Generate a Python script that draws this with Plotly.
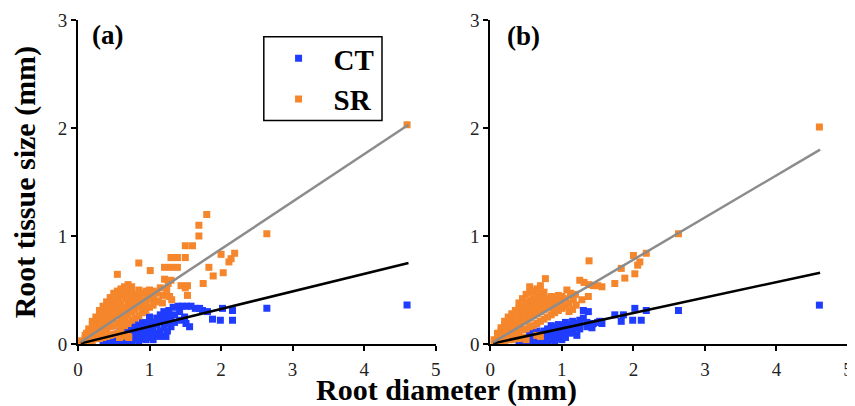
import plotly.graph_objects as go
from plotly.subplots import make_subplots

# ---------------- data ----------------
# panel (a): CT points [diameter, tissue size]
ct_a = [
    [4.60, 0.36], [2.64, 0.33], [2.02, 0.33], [2.16, 0.31], [1.81, 0.30], [1.88, 0.23],
    [1.99, 0.22], [2.16, 0.22], [1.46, 0.35], [1.52, 0.35], [1.58, 0.35], [1.64, 0.33],
    [1.70, 0.33], [1.74, 0.31], [1.49, 0.25], [1.51, 0.19], [1.56, 0.16], [1.40, 0.35],
    [1.33, 0.34], [1.27, 0.31], [1.30, 0.26], [1.22, 0.28], [1.30, 0.16], [1.23, 0.07],
    [1.14, 0.07], [0.95, 0.10], [1.00, 0.25],
    [0.35, 0.01], [0.40, 0.01], [0.40, 0.03], [0.45, 0.02], [0.45, 0.05],
    [0.50, 0.01], [0.50, 0.04], [0.50, 0.08], [0.55, 0.02], [0.55, 0.06], [0.55, 0.10],
    [0.60, 0.03], [0.60, 0.08], [0.60, 0.12], [0.65, 0.02], [0.65, 0.05], [0.65, 0.10],
    [0.65, 0.14], [0.70, 0.03], [0.70, 0.08], [0.70, 0.12], [0.75, 0.02], [0.75, 0.06],
    [0.75, 0.10], [0.75, 0.15], [0.80, 0.04], [0.80, 0.09], [0.80, 0.14], [0.80, 0.18],
    [0.85, 0.03], [0.85, 0.07], [0.85, 0.12], [0.85, 0.17], [0.90, 0.05], [0.90, 0.10],
    [0.90, 0.15], [0.90, 0.20], [0.95, 0.04], [0.95, 0.14], [0.95, 0.19], [1.00, 0.06],
    [1.00, 0.12], [1.00, 0.17], [1.00, 0.22], [1.05, 0.04], [1.05, 0.09], [1.05, 0.15],
    [1.05, 0.20], [1.10, 0.10], [1.10, 0.18], [1.10, 0.24], [1.15, 0.12], [1.15, 0.21],
    [1.15, 0.27], [1.20, 0.15], [1.20, 0.22], [1.20, 0.30], [1.25, 0.12], [1.25, 0.19],
    [1.25, 0.25], [1.35, 0.20], [1.35, 0.27], [1.42, 0.22], [1.42, 0.30],
]
# panel (a): SR points
sr_a = [
    [4.60, 2.03], [1.80, 1.20], [1.69, 1.10], [1.69, 1.00], [1.50, 0.91], [1.60, 0.91],
    [2.64, 1.02], [2.00, 0.83], [2.19, 0.84], [2.14, 0.79], [2.11, 0.76], [1.30, 0.80],
    [1.39, 0.80], [1.50, 0.80], [0.85, 0.75], [1.21, 0.71], [1.30, 0.71], [1.39, 0.71],
    [1.01, 0.68], [0.55, 0.645], [1.83, 0.71], [1.89, 0.63], [2.03, 0.66], [1.21, 0.60],
    [1.30, 0.59], [1.75, 0.56], [1.44, 0.54], [1.53, 0.54], [1.50, 0.52], [1.53, 0.45],
    [1.10, 0.48], [1.15, 0.52], [1.19, 0.45], [1.24, 0.50], [1.28, 0.44], [1.05, 0.42],
    [1.12, 0.40], [1.18, 0.38], [1.26, 0.56], [1.31, 0.41],
    [0.05, 0.01], [0.05, 0.03], [0.10, 0.02], [0.10, 0.05], [0.10, 0.08],
    [0.15, 0.03], [0.15, 0.07], [0.15, 0.11], [0.15, 0.14],
    [0.20, 0.03], [0.20, 0.08], [0.20, 0.13], [0.20, 0.18], [0.20, 0.21],
    [0.25, 0.05], [0.25, 0.10], [0.25, 0.15], [0.25, 0.20], [0.25, 0.25],
    [0.30, 0.05], [0.30, 0.11], [0.30, 0.17], [0.30, 0.23], [0.30, 0.28], [0.30, 0.31],
    [0.35, 0.06], [0.35, 0.12], [0.35, 0.19], [0.35, 0.25], [0.35, 0.31], [0.35, 0.35],
    [0.40, 0.07], [0.40, 0.14], [0.40, 0.21], [0.40, 0.28], [0.40, 0.34], [0.40, 0.39],
    [0.45, 0.08], [0.45, 0.16], [0.45, 0.23], [0.45, 0.30], [0.45, 0.37], [0.45, 0.43],
    [0.50, 0.09], [0.50, 0.17], [0.50, 0.25], [0.50, 0.33], [0.50, 0.40], [0.50, 0.47],
    [0.55, 0.10], [0.55, 0.19], [0.55, 0.27], [0.55, 0.35], [0.55, 0.43], [0.55, 0.49],
    [0.60, 0.07], [0.60, 0.14], [0.60, 0.22], [0.60, 0.30], [0.60, 0.38], [0.60, 0.45],
    [0.60, 0.51], [0.65, 0.08], [0.65, 0.17], [0.65, 0.24], [0.65, 0.33], [0.65, 0.47],
    [0.65, 0.53], [0.70, 0.07], [0.70, 0.19], [0.70, 0.27], [0.70, 0.36], [0.70, 0.50],
    [0.70, 0.55], [0.75, 0.22], [0.75, 0.30], [0.75, 0.39], [0.75, 0.48], [0.75, 0.53],
    [0.80, 0.24], [0.80, 0.32], [0.80, 0.42], [0.80, 0.46], [0.85, 0.26], [0.85, 0.35],
    [0.85, 0.44], [0.85, 0.50], [0.90, 0.29], [0.90, 0.38], [0.90, 0.47], [0.95, 0.31],
    [0.95, 0.40], [0.95, 0.49], [1.00, 0.34], [1.00, 0.42], [1.00, 0.50], [1.05, 0.36],
    [1.05, 0.44], [1.05, 0.49], [1.10, 0.39], [1.10, 0.47],
    [0.12, 0.10], [0.22, 0.16], [0.27, 0.22], [0.32, 0.20], [0.37, 0.28], [0.42, 0.25],
    [0.47, 0.34], [0.52, 0.29], [0.57, 0.40], [0.62, 0.34], [0.67, 0.42], [0.72, 0.44],
    [0.77, 0.35], [0.82, 0.37], [0.87, 0.41], [0.92, 0.33], [0.97, 0.45], [0.62, 0.18],
    [0.58, 0.06], [0.71, 0.06],
]
# panel (b): CT points
ct_b = [
    [4.60, 0.36], [2.63, 0.31], [2.02, 0.33], [2.18, 0.31], [2.11, 0.22], [1.99, 0.22],
    [1.86, 0.27], [1.74, 0.27], [1.83, 0.21], [1.37, 0.30], [1.30, 0.31], [1.30, 0.24],
    [1.44, 0.19], [1.56, 0.19], [1.50, 0.20], [1.53, 0.21], [1.21, 0.08], [1.12, 0.10],
    [0.40, 0.01], [0.45, 0.01], [0.45, 0.04], [0.50, 0.02], [0.50, 0.06], [0.55, 0.01],
    [0.55, 0.04], [0.55, 0.09], [0.60, 0.02], [0.60, 0.06], [0.60, 0.11], [0.65, 0.03],
    [0.65, 0.08], [0.65, 0.12], [0.70, 0.02], [0.70, 0.05], [0.70, 0.10], [0.75, 0.03],
    [0.75, 0.07], [0.75, 0.12], [0.80, 0.02], [0.80, 0.05], [0.80, 0.09], [0.80, 0.14],
    [0.85, 0.04], [0.85, 0.08], [0.85, 0.13], [0.85, 0.17], [0.90, 0.03], [0.90, 0.06],
    [0.90, 0.11], [0.90, 0.16], [0.95, 0.05], [0.95, 0.09], [0.95, 0.14], [0.95, 0.18],
    [1.00, 0.04], [1.00, 0.08], [1.00, 0.12], [1.00, 0.17], [1.05, 0.06], [1.05, 0.11],
    [1.05, 0.16], [1.05, 0.20], [1.10, 0.14], [1.10, 0.18], [1.15, 0.12], [1.15, 0.17],
    [1.15, 0.21], [1.20, 0.15], [1.20, 0.19], [1.25, 0.14], [1.25, 0.18], [1.25, 0.22],
    [1.35, 0.16], [1.35, 0.20], [1.42, 0.15], [1.42, 0.18],
]
# panel (b): SR points
sr_b = [
    [4.60, 2.01], [2.63, 1.02], [1.38, 0.77], [2.00, 0.82], [2.18, 0.84], [2.09, 0.76],
    [2.06, 0.73], [1.83, 0.70], [1.88, 0.61], [2.02, 0.65], [1.74, 0.56], [1.56, 0.53],
    [1.50, 0.54], [1.25, 0.59], [1.31, 0.57], [1.38, 0.55], [1.44, 0.54], [1.37, 0.44],
    [1.28, 0.41], [0.77, 0.605], [1.07, 0.50], [1.16, 0.41], [1.19, 0.46], [1.12, 0.47],
    [1.15, 0.32], [1.20, 0.36],
    [0.05, 0.01], [0.05, 0.04], [0.10, 0.02], [0.10, 0.06], [0.10, 0.10],
    [0.15, 0.02], [0.15, 0.07], [0.15, 0.12], [0.15, 0.15],
    [0.20, 0.03], [0.20, 0.08], [0.20, 0.13], [0.20, 0.18], [0.20, 0.21],
    [0.25, 0.04], [0.25, 0.09], [0.25, 0.15], [0.25, 0.20], [0.25, 0.25],
    [0.30, 0.04], [0.30, 0.10], [0.30, 0.16], [0.30, 0.22], [0.30, 0.28],
    [0.35, 0.05], [0.35, 0.11], [0.35, 0.18], [0.35, 0.24], [0.35, 0.31],
    [0.40, 0.05], [0.40, 0.12], [0.40, 0.19], [0.40, 0.26], [0.40, 0.33], [0.40, 0.38],
    [0.45, 0.06], [0.45, 0.13], [0.45, 0.21], [0.45, 0.28], [0.45, 0.35], [0.45, 0.42],
    [0.50, 0.04], [0.50, 0.14], [0.50, 0.22], [0.50, 0.30], [0.50, 0.38], [0.50, 0.46],
    [0.55, 0.16], [0.55, 0.24], [0.55, 0.32], [0.55, 0.40], [0.55, 0.48], [0.55, 0.53],
    [0.60, 0.17], [0.60, 0.26], [0.60, 0.34], [0.60, 0.42], [0.60, 0.49],
    [0.65, 0.08], [0.65, 0.19], [0.65, 0.28], [0.65, 0.36], [0.65, 0.44], [0.65, 0.51],
    [0.70, 0.07], [0.70, 0.21], [0.70, 0.30], [0.70, 0.38], [0.70, 0.47], [0.70, 0.54],
    [0.75, 0.23], [0.75, 0.32], [0.75, 0.40], [0.75, 0.48], [0.80, 0.25], [0.80, 0.34],
    [0.80, 0.42], [0.85, 0.27], [0.85, 0.36], [0.85, 0.44], [0.90, 0.29], [0.90, 0.38],
    [0.90, 0.43], [0.95, 0.31], [0.95, 0.37], [0.95, 0.45], [1.00, 0.33], [1.00, 0.40],
    [1.00, 0.44], [1.05, 0.35], [1.05, 0.42], [1.10, 0.30], [1.10, 0.38],
    [0.12, 0.08], [0.22, 0.11], [0.27, 0.18], [0.32, 0.13], [0.37, 0.21], [0.42, 0.16],
    [0.47, 0.25], [0.52, 0.34], [0.57, 0.28], [0.62, 0.38], [0.67, 0.32], [0.72, 0.43],
    [0.78, 0.36], [0.83, 0.39], [0.88, 0.33], [0.93, 0.41],
]
# fitted lines (end points)
fit_ct_a_x = [0.04, 4.62]
fit_ct_a_y = [0.006, 0.75]
fit_sr_a_x = [0.04, 4.62]
fit_sr_a_y = [0.018, 2.03]
fit_ct_b_x = [0.04, 4.61]
fit_ct_b_y = [0.006, 0.66]
fit_sr_b_x = [0.04, 4.61]
fit_sr_b_y = [0.016, 1.80]

x_ticks = [0, 1, 2, 3, 4, 5]
y_ticks = [0, 1, 2, 3]
panel_labels = ["(a)", "(b)"]
series_names = ["CT", "SR"]

# ---------------- styling ----------------
BLUE = "#1f3cff"
ORANGE = "#f5862b"
GRAY = "#8c8c8c"
SERIF = "Liberation Serif"
MS = 7

fig = make_subplots(rows=1, cols=2, horizontal_spacing=0.071)

def xs(p):
    return [v[0] for v in p]

def ys(p):
    return [v[1] for v in p]

for col, (ct, sr, fcx, fcy, fsx, fsy) in enumerate([
        (ct_a, sr_a, fit_ct_a_x, fit_ct_a_y, fit_sr_a_x, fit_sr_a_y),
        (ct_b, sr_b, fit_ct_b_x, fit_ct_b_y, fit_sr_b_x, fit_sr_b_y)], start=1):
    fig.add_trace(go.Scatter(x=xs(ct), y=ys(ct), mode="markers", name=series_names[0],
                             marker=dict(symbol="square", size=MS, color=BLUE, line_width=0),
                             showlegend=(col == 1), legendrank=1), row=1, col=col)
    fig.add_trace(go.Scatter(x=xs(sr), y=ys(sr), mode="markers", name=series_names[1],
                             marker=dict(symbol="square", size=MS, color=ORANGE, line_width=0),
                             showlegend=(col == 1), legendrank=2), row=1, col=col)
    fig.add_trace(go.Scatter(x=fcx, y=fcy, mode="lines", line=dict(color="black", width=2.5),
                             showlegend=False), row=1, col=col)
    fig.add_trace(go.Scatter(x=fsx, y=fsy, mode="lines", line=dict(color=GRAY, width=2.5),
                             showlegend=False), row=1, col=col)

axis_common = dict(showgrid=False, zeroline=False, showline=True, linecolor="black",
                   linewidth=2, ticks="outside", ticklen=5, tickwidth=2, tickcolor="black",
                   ticklabeloverflow="allow",
                   tickfont=dict(family=SERIF, size=19, color="#222"))
for col in (1, 2):
    fig.update_xaxes(range=[0, 5], tickvals=x_ticks, ticklabelstandoff=2, **axis_common,
                     row=1, col=col)
    fig.update_yaxes(range=[0, 3], tickvals=y_ticks, **axis_common, row=1, col=col)

# the page body has an 8px margin, so the figure is 8px smaller with reduced margins
fig.update_layout(
    width=847, height=398,
    margin=dict(l=70, r=2, t=10, b=62),
    plot_bgcolor="white", paper_bgcolor="white",
    showlegend=True,
    legend=dict(x=0.241, y=0.960, xanchor="left", yanchor="top",
                borderwidth=0, bgcolor="rgba(0,0,0,0)",
                font=dict(family=SERIF, size=29, color="black", weight="bold"),
                itemwidth=60, tracegroupgap=0),
    shapes=[dict(type="rect", xref="paper", yref="paper",
                 x0=0.2413, x1=0.3948, y0=0.690, y1=0.948,
                 line=dict(color="black", width=1.5), fillcolor="rgba(0,0,0,0)",
                 layer="above")],
)

fig.add_annotation(text="Root diameter (mm)", xref="paper", yref="paper",
                   x=0.479, y=-0.141, xanchor="center", yanchor="middle", showarrow=False,
                   font=dict(family=SERIF, size=30, color="black", weight="bold"))
fig.add_annotation(text="Root tissue size (mm)", xref="paper", yref="paper",
                   x=-0.0684, y=0.5, xanchor="center", yanchor="middle", showarrow=False,
                   textangle=-90,
                   font=dict(family=SERIF, size=30, color="black", weight="bold"))
for lbl, px, py in zip(panel_labels, [0.038, 0.578], [0.955, 0.951]):
    fig.add_annotation(text=lbl, xref="paper", yref="paper", x=px, y=py,
                       xanchor="center", yanchor="middle", showarrow=False,
                       font=dict(family=SERIF, size=27, color="black", weight="bold"))

fig.write_html("out.html")
